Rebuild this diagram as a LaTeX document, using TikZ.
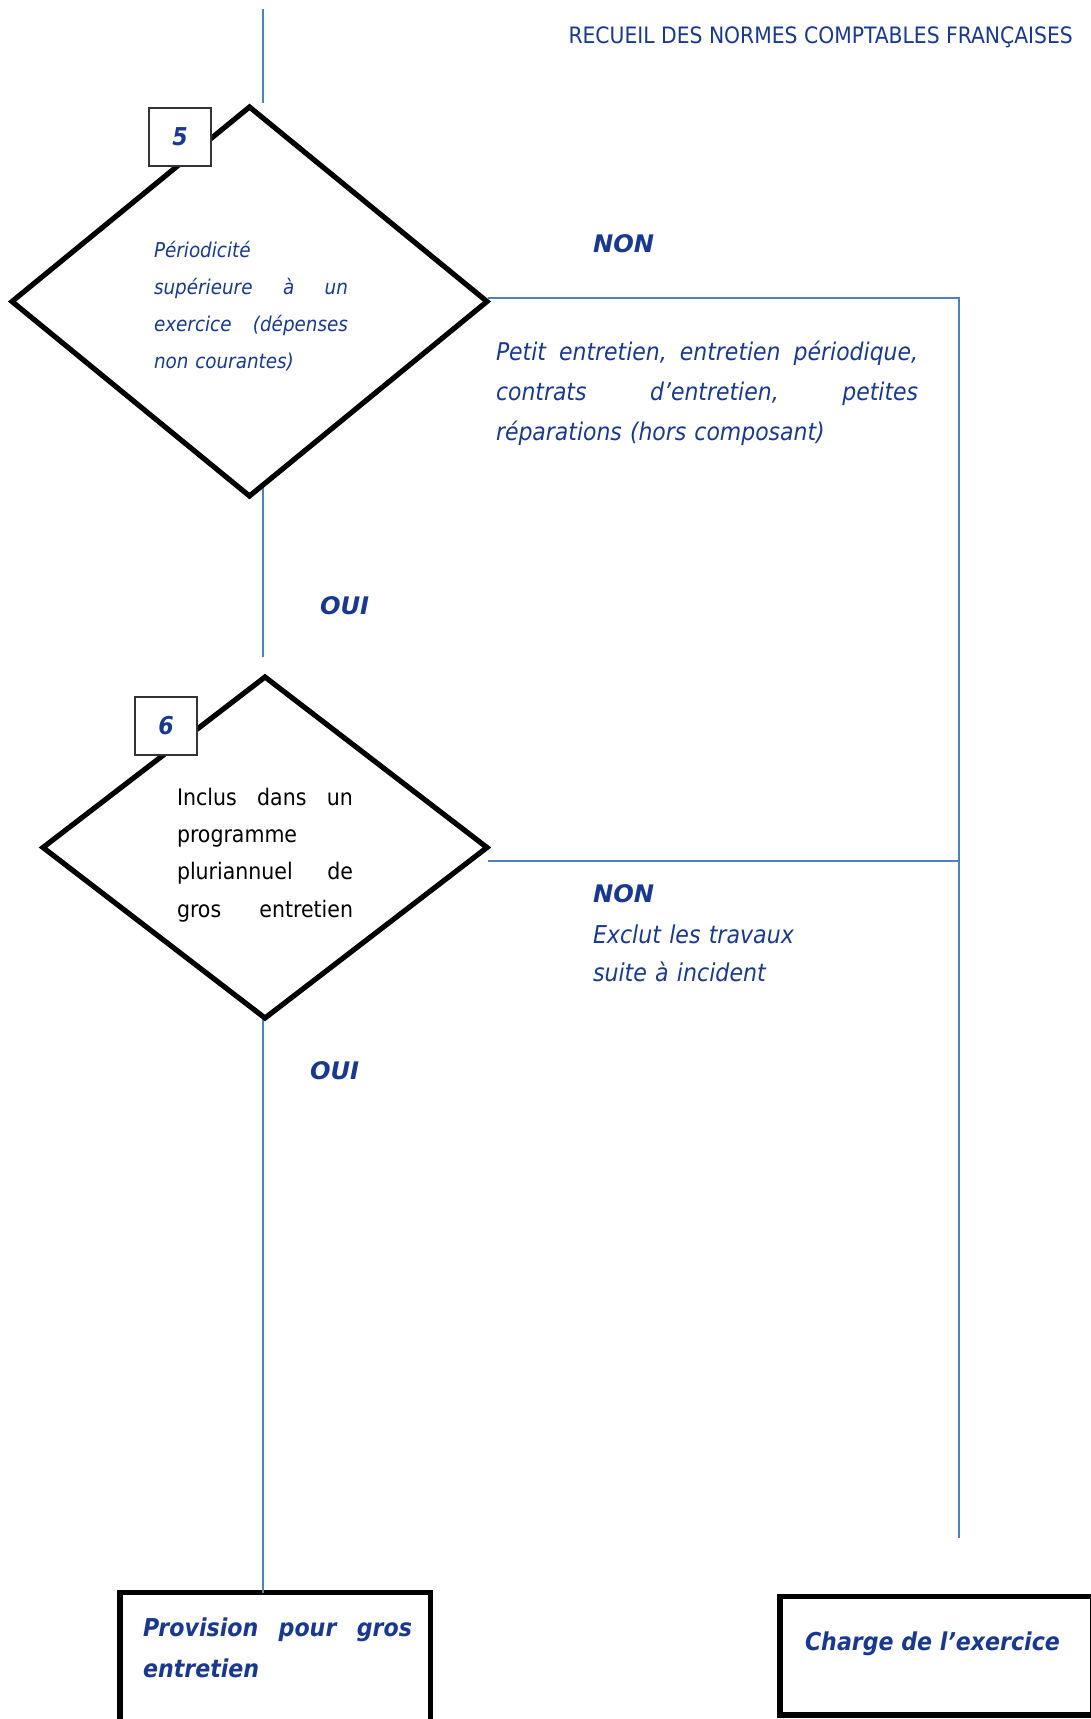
\documentclass[tikz,border=0pt]{standalone}
\usepackage{fontspec}
\setmainfont{DejaVu Sans Condensed}
\newfontfamily\widefont{DejaVu Sans}
\usetikzlibrary{shapes.geometric}
\definecolor{navy}{HTML}{18398F}
\definecolor{lineblue}{HTML}{4F81BD}
\newcommand\jline[1]{\hbox to\linewidth{#1}\par}
\begin{document}
\begin{tikzpicture}[x=0.5pt,y=-0.5pt,
  conn/.style={draw=lineblue,line width=1pt},
  decision/.style={diamond,draw=black,line width=2.6pt,inner sep=0pt,outer sep=0pt},
  numbox/.style={draw=black!80,fill=white,line width=0.6pt,minimum width=31pt,minimum height=29pt,inner sep=0pt,text=navy,font=\fontsize{12.3}{14}\selectfont\bfseries\itshape},
  result/.style={draw=black,line width=2.6pt,inner sep=0pt,outer sep=0pt,anchor=north west},
  lbl/.style={inner sep=0pt,outer sep=0pt,anchor=base west,text=navy},
  yesno/.style={lbl,font=\widefont\fontsize{12.1}{15}\selectfont\bfseries\itshape},
  bolditext/.style={lbl,font=\fontsize{12.3}{20.5}\selectfont\bfseries\itshape},
  itext/.style={lbl,font=\fontsize{12.2}{20}\selectfont\itshape}
]
\useasboundingbox (0,0) rectangle (1091,1719);

% header
\node[lbl,anchor=base east,font=\fontsize{11.3}{13}\selectfont] (hdr) at (1073,43) {RECUEIL DES NORMES COMPTABLES FRANÇAISES};

% connectors
\coordinate (top) at (263,9);
\coordinate (d5in) at (263,103);
\coordinate (d5out) at (263,484);
\coordinate (d6in) at (263,657);
\coordinate (d6out) at (263,1018);
\coordinate (n1s) at (488,298);
\coordinate (corner) at (959,298);
\coordinate (rend) at (959,1538);
\coordinate (n2s) at (488,861);

% result boxes
\node[result,minimum width=155.25pt,minimum height=83.75pt] (prov) at (120,1592.5) {};
\node[result,minimum width=156.5pt,minimum height=59.25pt] (chg) at (780,1596.5) {};

\draw[conn] (top) -- (d5in);
\draw[conn] (d5out) -- (d6in);
\draw[conn] (d6out) -- (d6out |- prov.north);
\draw[conn] (n1s) -- (corner) -- (rend);
\draw[conn] (n2s) -- (corner |- n2s);

% decisions
\node[decision,minimum width=237.5pt,minimum height=194.5pt] (d5) at (249.5,301.5) {};
\node[numbox] (n5) at (180,137) {5};
\node[decision,minimum width=222pt,minimum height=170.5pt] (d6) at (265,847.5) {};
\node[numbox] (n6) at (166,726) {6};

% texts in diamonds
\node[lbl,font=\fontsize{10.2}{18.5}\selectfont\itshape,text width=97pt] (t5) at (154,257)
  {\jline{Périodicité\hfill}\jline{supérieure\hfill à\hfill un}\jline{exercice\hfill (dépenses}\jline{non courantes)\hfill}};
\node[lbl,text=black,font=\fontsize{11.4}{18.7}\selectfont,text width=88pt] (t6) at (177,805)
  {\jline{Inclus\hfill dans\hfill un}\jline{programme\hfill}\jline{pluriannuel\hfill de}\jline{gros\hfill entretien}};

% labels
\node[yesno] (non1) at (593,252) {NON};
\node[itext,text width=211pt] (non1t) at (496,360)
  {\jline{Petit\hfill entretien,\hfill entretien\hfill périodique,}\jline{contrats\hfill d’entretien,\hfill petites}\jline{réparations (hors composant)\hfill}};
\node[yesno] (oui1) at (320,614) {OUI};
\node[yesno] (non2) at (593,902) {NON};
\node[lbl,font=\fontsize{12.3}{19}\selectfont\itshape,text width=120pt] (non2t) at (593,943)
  {\jline{Exclut les travaux\hfill}\jline{suite à incident\hfill}};
\node[yesno] (oui2) at (310,1079) {OUI};

% result texts
\node[bolditext,text width=134.5pt] (provtxt) at (143,1636) {\jline{Provision\hfill pour\hfill gros}\jline{entretien\hfill}};
\node[bolditext] (chgtxt) at (805,1650) {Charge de l’exercice};
\end{tikzpicture}
\end{document}
